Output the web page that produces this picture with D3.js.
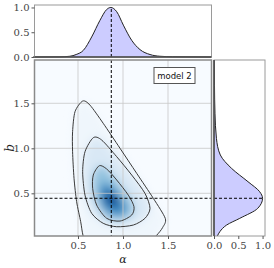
<!DOCTYPE html>
<html>
<head>
<meta charset="utf-8">
<script src="https://cdn.jsdelivr.net/npm/d3@7"></script>
<style>
  body { margin: 0; background: #fff; }
  svg { display: block; }
</style>
</head>
<body>
<div id="chart"></div>
<script>
// best-fit crosshair
const bestAlpha = 0.87;
const bestB = 0.445;

// marginal of alpha (normalised to peak 1)
const alphaVals = [0.0, 0.3, 0.41, 0.48, 0.56, 0.652, 0.744, 0.819, 0.865, 0.93, 1.004, 1.096, 1.189, 1.3, 1.41, 1.55, 1.98];
const alphaDens = [0.0, 0.003, 0.015, 0.05, 0.135, 0.405, 0.74, 0.96, 1.0, 0.915, 0.643, 0.338, 0.149, 0.05, 0.015, 0.005, 0.0];

// marginal of b
const bVals = [-0.05, 0.026, 0.074, 0.148, 0.222, 0.333, 0.445, 0.518, 0.629, 0.778, 0.926, 1.111, 1.39, 1.7, 2.0];
const bDens = [0.03, 0.07, 0.12, 0.26, 0.53, 0.9, 1.0, 0.94, 0.7, 0.36, 0.13, 0.05, 0.02, 0.01, 0.005];

// contour lines [alpha, b], outer to inner
const outerContour = [[0.552, 1.525], [0.633, 1.48], [0.78, 1.278], [0.967, 1.0], [1.152, 0.722], [1.337, 0.444],
  [1.47, 0.22], [1.44, 0.12], [1.37, 0.03], [1.25, -0.08], [0.9, -0.15], [0.6, -0.08], [0.555, 0.037],
  [0.53, 0.185], [0.485, 0.407], [0.456, 0.667], [0.44, 0.962], [0.44, 1.185], [0.467, 1.407]];
const middleContour = [[0.67, 1.118], [0.763, 1.092], [0.93, 0.907], [1.097, 0.703], [1.244, 0.5], [1.3, 0.333],
  [1.244, 0.222], [1.115, 0.148], [0.93, 0.129], [0.78, 0.167], [0.652, 0.278], [0.578, 0.48], [0.552, 0.74], [0.578, 0.962]];
const innerContour = [[0.737, 0.807], [0.819, 0.77], [0.93, 0.648], [1.059, 0.48], [1.122, 0.352], [1.097, 0.259],
  [0.967, 0.192], [0.819, 0.222], [0.707, 0.37], [0.663, 0.555], [0.67, 0.703]];

// darker shading inside the inner contour
const coreShade = [[0.78, 0.62], [0.74, 0.5], [0.77, 0.35], [0.86, 0.27], [0.98, 0.25], [1.04, 0.32], [1.0, 0.42], [0.9, 0.55]];
const centerShade = [[0.82, 0.52], [0.8, 0.42], [0.86, 0.36], [0.94, 0.36], [0.95, 0.42], [0.88, 0.5]];

const shadeLevels = [0.04, 0.15, 0.4, 0.65, 0.9];

const mainTicks = [0.5, 1.0, 1.5];
const margTicks = [0.0, 0.5, 1.0];
const legendLabel = "model 2";

const W = 274, H = 268;
const mainP = {x0: 34.5, x1: 211.5, y0: 60, y1: 236};
const topP = {y0: 5, y1: 57};
const sideP = {x0: 214, x1: 265};

const svg = d3.select("#chart").append("svg")
  .attr("width", W).attr("height", H);

const x = d3.scaleLinear().domain([0.017, 1.983]).range([mainP.x0, mainP.x1]);
const y = d3.scaleLinear().domain([0.026, 1.981]).range([mainP.y1, mainP.y0]);
const yTop = d3.scaleLinear().domain([0, 1.05]).range([topP.y1, topP.y0]);
const xSide = d3.scaleLinear().domain([0, 1.05]).range([sideP.x0, sideP.x1]);

const serif = "'DejaVu Serif', serif";
const fmt = d3.format(".1f");

const defs = svg.append("defs");
defs.append("clipPath").attr("id", "clipMain")
  .append("rect").attr("x", mainP.x0).attr("y", mainP.y0)
  .attr("width", mainP.x1 - mainP.x0).attr("height", mainP.y1 - mainP.y0);
defs.append("clipPath").attr("id", "clipSide")
  .append("rect").attr("x", sideP.x0).attr("y", mainP.y0)
  .attr("width", sideP.x1 - sideP.x0).attr("height", mainP.y1 - mainP.y0);
defs.append("filter").attr("id", "blur")
  .attr("x", "-50%").attr("y", "-50%").attr("width", "200%").attr("height", "200%")
  .append("feGaussianBlur").attr("stdDeviation", 4);

// ---------- main panel ----------
const gm = svg.append("g");
gm.append("rect").attr("x", mainP.x0).attr("y", mainP.y0)
  .attr("width", mainP.x1 - mainP.x0).attr("height", mainP.y1 - mainP.y0)
  .attr("fill", d3.interpolateBlues(0));

const closed = d3.line().x(d => x(d[0])).y(d => y(d[1])).curve(d3.curveCardinalClosed.tension(0.2));

const shades = [outerContour, middleContour, innerContour, coreShade, centerShade];
gm.append("g").attr("clip-path", "url(#clipMain)")
  .append("g").attr("filter", "url(#blur)")
  .selectAll("path").data(shades).join("path")
  .attr("d", closed)
  .attr("fill", (d, i) => d3.interpolateBlues(shadeLevels[i]));

// grid
const grid = gm.append("g").attr("stroke", "#c8c8c8").attr("stroke-width", 0.8);
grid.selectAll(".gx").data(mainTicks).join("line").attr("class", "gx")
  .attr("x1", d => x(d)).attr("x2", d => x(d)).attr("y1", mainP.y0).attr("y2", mainP.y1);
grid.selectAll(".gy").data(mainTicks).join("line").attr("class", "gy")
  .attr("y1", d => y(d)).attr("y2", d => y(d)).attr("x1", mainP.x0).attr("x2", mainP.x1);

gm.append("g").attr("clip-path", "url(#clipMain)")
  .selectAll("path").data([outerContour, middleContour, innerContour]).join("path")
  .attr("d", closed)
  .attr("fill", "none").attr("stroke", "#3a3a3a").attr("stroke-width", 1);

// crosshair
gm.append("line").attr("x1", x(bestAlpha)).attr("x2", x(bestAlpha))
  .attr("y1", mainP.y0).attr("y2", mainP.y1)
  .attr("stroke", "#000").attr("stroke-width", 1).attr("stroke-dasharray", "3,2");
gm.append("line").attr("y1", y(bestB)).attr("y2", y(bestB))
  .attr("x1", mainP.x0).attr("x2", mainP.x1)
  .attr("stroke", "#000").attr("stroke-width", 1).attr("stroke-dasharray", "3,2");

// legend box
const lg = gm.append("g");
lg.append("rect").attr("x", 154).attr("y", 67.5).attr("width", 41).attr("height", 16)
  .attr("fill", "#fff").attr("stroke", "#555").attr("stroke-width", 1);
lg.append("text").attr("x", 174.5).attr("y", 78.8).attr("text-anchor", "middle")
  .attr("font-family", "'DejaVu Sans', sans-serif").attr("font-size", 8.5).attr("fill", "#111")
  .text(legendLabel);

// axes
const axStyle = g => {
  g.selectAll(".domain").remove();
  g.selectAll(".tick line").attr("stroke", "#555");
  g.selectAll(".tick text").attr("font-family", serif).attr("font-size", 10).attr("fill", "#444");
};
svg.append("g").attr("transform", `translate(0,${mainP.y1})`)
  .call(d3.axisBottom(x).tickValues(mainTicks).tickFormat(fmt).tickSize(3).tickPadding(3)).call(axStyle);
svg.append("g").attr("transform", `translate(${mainP.x0},0)`)
  .call(d3.axisLeft(y).tickValues(mainTicks).tickFormat(fmt).tickSize(3).tickPadding(2)).call(axStyle);

gm.append("rect").attr("x", mainP.x0).attr("y", mainP.y0)
  .attr("width", mainP.x1 - mainP.x0).attr("height", mainP.y1 - mainP.y0)
  .attr("fill", "none").attr("stroke", "#8a8a8a").attr("stroke-width", 1.5);

svg.append("text").attr("x", (mainP.x0 + mainP.x1) / 2).attr("y", 263).attr("text-anchor", "middle")
  .attr("font-family", serif).attr("font-style", "italic").attr("font-size", 11).attr("fill", "#222")
  .text("α");
svg.append("text").attr("transform", `translate(14,${(mainP.y0 + mainP.y1) / 2}) rotate(-90)`)
  .attr("text-anchor", "middle")
  .attr("font-family", serif).attr("font-style", "italic").attr("font-size", 12).attr("fill", "#222")
  .text("b");

// ---------- top marginal ----------
const gt = svg.append("g");
const areaTop = d3.area().x(d => x(d[0])).y0(yTop(0)).y1(d => yTop(d[1])).curve(d3.curveMonotoneX);
const topData = d3.zip(alphaVals, alphaDens);
gt.append("path").attr("d", areaTop(topData)).attr("fill", "#ccccff");
gt.append("path").attr("d", areaTop.lineY1()(topData)).attr("fill", "none").attr("stroke", "#222").attr("stroke-width", 1);
gt.append("line").attr("x1", x(bestAlpha)).attr("x2", x(bestAlpha)).attr("y1", yTop(0)).attr("y2", yTop(1))
  .attr("stroke", "#000").attr("stroke-width", 1).attr("stroke-dasharray", "3,2");
svg.append("g").attr("transform", `translate(${mainP.x0},0)`)
  .call(d3.axisLeft(yTop).tickValues(margTicks).tickFormat(fmt).tickSize(3).tickPadding(2)).call(axStyle);
gt.append("rect").attr("x", mainP.x0).attr("y", topP.y0)
  .attr("width", mainP.x1 - mainP.x0).attr("height", topP.y1 - topP.y0)
  .attr("fill", "none").attr("stroke", "#9a9a9a").attr("stroke-width", 1);
gt.append("line").attr("x1", mainP.x0).attr("x2", mainP.x1).attr("y1", topP.y1).attr("y2", topP.y1)
  .attr("stroke", "#444").attr("stroke-width", 1.5);

// ---------- side marginal ----------
const gs = svg.append("g");
const areaSide = d3.area().y(d => y(d[0])).x0(xSide(0)).x1(d => xSide(d[1])).curve(d3.curveMonotoneY);
const sideData = d3.zip(bVals, bDens);
const gsc = gs.append("g").attr("clip-path", "url(#clipSide)");
gsc.append("path").attr("d", areaSide(sideData)).attr("fill", "#ccccff");
gsc.append("path").attr("d", areaSide.lineX1()(sideData)).attr("fill", "none").attr("stroke", "#222").attr("stroke-width", 1);
gsc.append("line").attr("y1", y(bestB)).attr("y2", y(bestB)).attr("x1", xSide(0)).attr("x2", xSide(1))
  .attr("stroke", "#000").attr("stroke-width", 1).attr("stroke-dasharray", "3,2");
svg.append("g").attr("transform", `translate(0,${mainP.y1})`)
  .call(d3.axisBottom(xSide).tickValues(margTicks).tickFormat(fmt).tickSize(3).tickPadding(3)).call(axStyle);
gs.append("rect").attr("x", sideP.x0).attr("y", mainP.y0)
  .attr("width", sideP.x1 - sideP.x0).attr("height", mainP.y1 - mainP.y0)
  .attr("fill", "none").attr("stroke", "#9a9a9a").attr("stroke-width", 1);
gs.append("line").attr("x1", sideP.x0).attr("x2", sideP.x0).attr("y1", mainP.y0).attr("y2", mainP.y1)
  .attr("stroke", "#444").attr("stroke-width", 1.5);
</script>
</body>
</html>
